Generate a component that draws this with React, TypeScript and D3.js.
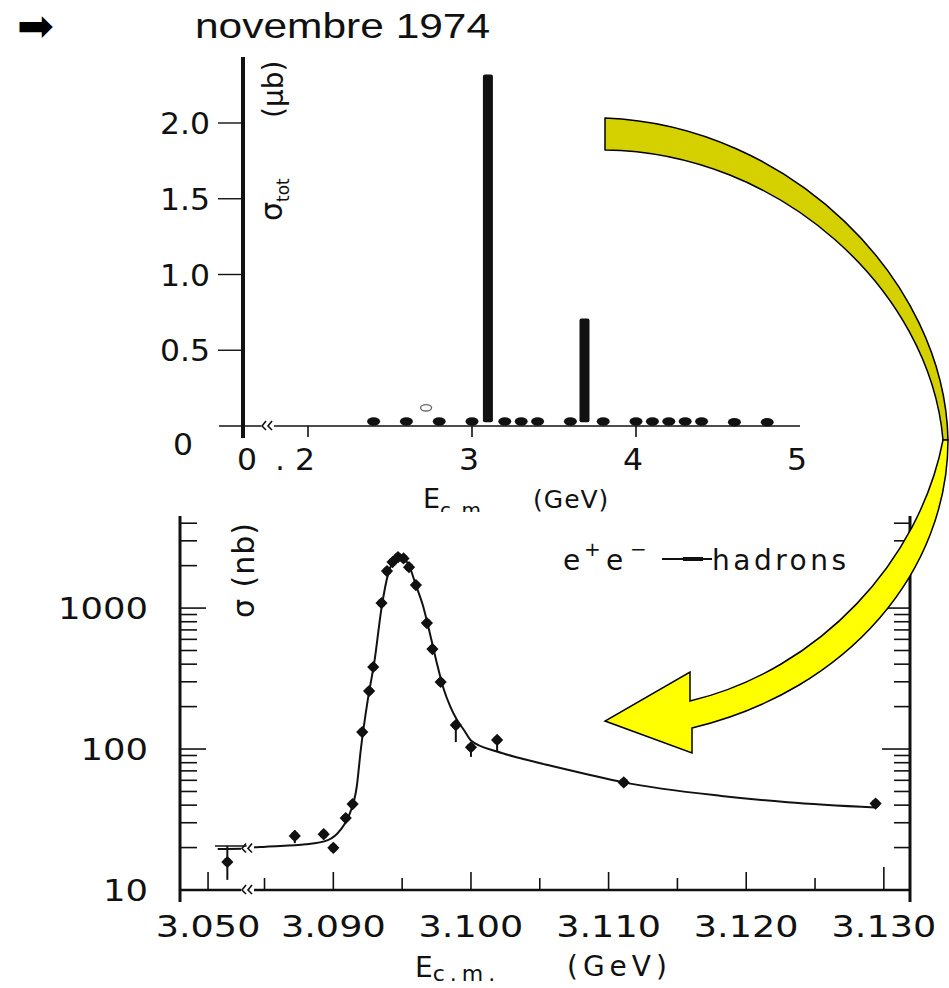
import React from 'react'
import * as d3 from 'd3'

// top panel: total hadronic cross-section scan (μb)
const scanE = [2.4, 2.6, 2.8, 3.0, 3.2, 3.3, 3.4, 3.6, 3.8, 4.0, 4.1, 4.2, 4.3, 4.4, 4.6, 4.8]
const scanSigma = [0.03, 0.03, 0.03, 0.03, 0.03, 0.03, 0.03, 0.03, 0.03, 0.03, 0.03, 0.03, 0.03, 0.03, 0.025, 0.025]
const peakE = [3.097, 3.686]
const peakSigma = [2.32, 0.71]
const strayE = [2.72]
const straySigma = [0.12]
const topYTicks = [0.5, 1.0, 1.5, 2.0]
const topYLabels = ['0.5', '1.0', '1.5', '2.0']
const topXTicks = [2, 3, 4]
const topXLabelVals = [2, 3, 4, 5]
const topXLabels = ['2', '3', '4', '5']

// bottom panel: J/psi resonance scan (nb)
const jpsiE = [3.0514, 3.0872, 3.0893, 3.0900, 3.0909, 3.0914, 3.0921, 3.0926, 3.0929, 3.0935, 3.0939, 3.0943, 3.0947, 3.0951, 3.0955, 3.0960, 3.0968, 3.0972, 3.0978, 3.0989, 3.1000, 3.1019, 3.1111, 3.1294]
const jpsiSigma = [15.8, 24.2, 24.9, 19.9, 32.4, 40.7, 132, 258, 382, 1085, 1830, 2120, 2300, 2250, 1950, 1455, 783, 512, 299, 148, 103, 116, 58, 41]
const jpsiLo = [11.8, 21.5, 22.8, 18.3, 30, 38, 122, 240, 355, 1010, 1700, 1980, 2150, 2100, 1820, 1360, 730, 480, 280, 112, 88, 95, 54, 38.5]
const jpsiHi = [20.5, 26.5, 26.8, 21.6, 34.8, 43.5, 142, 276, 410, 1160, 1960, 2260, 2450, 2400, 2080, 1550, 840, 545, 320, 158, 110, 123, 62, 43.5]
const fitE = [3.0507, 3.0529, 3.0838, 3.0851, 3.0880, 3.0896, 3.0905, 3.0912, 3.0917, 3.0920, 3.0925, 3.0930, 3.0935, 3.0940, 3.0945, 3.0950, 3.0955, 3.0960, 3.0965, 3.0970, 3.0975, 3.0980, 3.0985, 3.0990, 3.0995, 3.1000, 3.1019, 3.1036, 3.1058, 3.1085, 3.1111, 3.1182, 3.1230, 3.1294]
const fitSigma = [19.5, 19.7, 19.9, 20.3, 21.1, 22.6, 26.6, 35, 54, 100, 222, 427, 1000, 1770, 2200, 2270, 2000, 1455, 1050, 670, 415, 270, 200, 160, 136, 115, 96, 86, 76, 66, 58, 46.5, 42, 38.5]
const botXTicks = [3.050, 3.085, 3.090, 3.095, 3.100, 3.105, 3.110, 3.115, 3.120, 3.125, 3.130]
const botXMajor = [3.050, 3.090, 3.100, 3.110, 3.120, 3.130]
const botXLabels = ['3.050', '3.090', '3.100', '3.110', '3.120', '3.130']
const botYLabelVals = [10, 100, 1000]
const botYLabels = ['10', '100', '1000']

const INK = '#111'
const FONT = 'DejaVu Sans'

const Txt = ({ x, y, sx = 1, size = 30, anchor = 'middle', children, ls = 0, family = FONT }: any) => (
  <text transform={`translate(${x},${y}) scale(${sx},1)`} textAnchor={anchor} fontSize={size}
    fontFamily={family} fill={INK} letterSpacing={ls}>{children}</text>
)

const Brk = ({ x, y }: { x: number; y: number }) => (
  <g>
    <rect x={x - 1} y={y - 3} width={13} height={6} fill="#fff" />
    <path d={`M${x + 4},${y - 5} L${x},${y} L${x + 4},${y + 4} M${x + 10},${y - 5} L${x + 6},${y} L${x + 10},${y + 4}`}
      fill="none" stroke={INK} strokeWidth={1.6} />
  </g>
)

export default function App() {
  // top panel scales
  const xT = d3.scaleLinear().domain([2, 5]).range([308, 800])
  const yT = d3.scaleLinear().domain([0, 2]).range([426, 123])
  const yAxisX = 243

  // bottom panel scales (broken energy axis)
  const xB = d3.scaleLinear().domain([3.048, 3.0529, 3.0838, 3.1319]).range([180.5, 248, 248, 910])
  const yB = d3.scaleLog().domain([10, 4500]).range([890, 516])
  const minor = yB.ticks()

  const fit = d3.line<number>()
    .x((_, i) => xB(fitE[i]))
    .y(d => yB(d))
    .curve(d3.curveMonotoneX)(fitSigma)

  const diamond = d3.symbol().type(d3.symbolDiamond2).size(95)()

  // yellow curved arrow: darker back band, bright front band with head
  const back = 'M605,118 C790,125 945,280 948,440 L943,440 C930,290 780,152 605,150 Z'
  const front = 'M948,440 C948,570 850,690 692,728 L692,753 L605,721 L690,672 L690,701 C820,670 920,560 943,440 Z'

  return (
    <svg width={949} height={988} style={{ position: 'absolute', left: 0, top: 0, background: '#fff' }}>
      <defs>
        <clipPath id="topclip"><rect x={0} y={45} width={949} height={467} /></clipPath>
      </defs>

      {/* slide header */}
      <text x={17} y={41} fontSize={44} fontFamily={FONT} fill="#000">➡</text>
      <Txt x={195} y={38} sx={1.18} size={36} anchor="start" family="Liberation Sans">novembre 1974</Txt>

      {/* ---------- top panel ---------- */}
      <g clipPath="url(#topclip)">
        <line x1={219} x2={800} y1={yT(0)} y2={yT(0)} stroke={INK} strokeWidth={1.6} />
        <line x1={yAxisX} x2={yAxisX} y1={57} y2={438} stroke={INK} strokeWidth={4} />
        {topYTicks.map(t => (
          <line key={t} x1={218} x2={yAxisX} y1={yT(t)} y2={yT(t)} stroke={INK} strokeWidth={1.4} />
        ))}
        {topYTicks.map((t, i) => (
          <Txt key={t} x={210} y={yT(t) + 11} anchor="end" size={30} sx={1.05}>{topYLabels[i]}</Txt>
        ))}
        <Txt x={183} y={455} size={30} sx={1.05}>0</Txt>
        {topXTicks.map(t => (
          <line key={t} x1={xT(t)} x2={xT(t)} y1={yT(0)} y2={yT(0) + 11} stroke={INK} strokeWidth={1.6} />
        ))}
        <Txt x={yAxisX + 4} y={470} size={30} sx={1.05}>0</Txt>
        <Txt x={280} y={470} size={30}>.</Txt>
        {topXLabelVals.map((t, i) => (
          <Txt key={t} x={xT(t) - 3} y={470} size={30} sx={1.05}>{topXLabels[i]}</Txt>
        ))}
        <Brk x={262} y={yT(0)} />
        {scanE.map((e, i) => (
          <ellipse key={e} cx={xT(e)} cy={yT(scanSigma[i])} rx={6.5} ry={4.2} fill={INK} />
        ))}
        {peakE.map((e, i) => (
          <rect key={e} x={xT(e) - 5} y={yT(peakSigma[i])} width={10} height={yT(0.025) - yT(peakSigma[i])} rx={2} fill={INK} />
        ))}
        {strayE.map((e, i) => (
          <ellipse key={e} cx={xT(e)} cy={yT(straySigma[i])} rx={5.5} ry={3.2} fill="none" stroke="#666" strokeWidth={1.3} />
        ))}
        <text transform="translate(283,118) rotate(-90)" fontSize={28} fontFamily={FONT} fill={INK}>(μb)</text>
        <text transform="translate(282,221) rotate(-90)" fontSize={30} fontFamily={FONT} fill={INK}>
          σ<tspan fontSize={17} dy={7}>tot</tspan>
        </text>
        <text x={423} y={508} fontSize={27} fontFamily={FONT} fill={INK}>
          E<tspan fontSize={20} dy={9} letterSpacing={2}>c.m.</tspan>
        </text>
        <Txt x={533} y={508} size={25} anchor="start" ls={1}>(GeV)</Txt>
      </g>

      {/* ---------- bottom panel ---------- */}
      <line x1={180} x2={180} y1={516} y2={902} stroke={INK} strokeWidth={3} />
      <line x1={910} x2={910} y1={516} y2={902} stroke={INK} strokeWidth={3} />
      <line x1={180} x2={910} y1={890} y2={890} stroke={INK} strokeWidth={2.5} />
      {minor.map(t => {
        const major = botYLabelVals.includes(t)
        return (
          <g key={t}>
            <line x1={180} x2={major ? 206 : 197} y1={yB(t)} y2={yB(t)} stroke={INK} strokeWidth={1.6} />
            <line x1={910} x2={major ? 882 : 894} y1={yB(t)} y2={yB(t)} stroke={INK} strokeWidth={1.6} />
          </g>
        )
      })}
      {botYLabelVals.map((t, i) => (
        <Txt key={t} x={148} y={yB(t) + 11} anchor="end" size={30} sx={1.18}>{botYLabels[i]}</Txt>
      ))}
      {botXTicks.map(t => {
        const major = botXMajor.includes(t)
        const h = t === 3.130 ? 23 : major ? 18 : 12
        return <line key={t} x1={xB(t)} x2={xB(t)} y1={890} y2={890 - h} stroke={INK} strokeWidth={1.6} />
      })}
      {botXMajor.map((t, i) => (
        <Txt key={t} x={xB(t)} y={937} size={30} sx={1.22}>{botXLabels[i]}</Txt>
      ))}
      <Brk x={xB(3.0529) - 6} y={890} />

      <path d={fit ?? ''} fill="none" stroke={INK} strokeWidth={2} />
      <Brk x={xB(3.0529) - 6} y={yB(19.7)} />
      <line x1={xB(3.0505)} x2={xB(3.0528)} y1={yB(20.5)} y2={yB(20.5)} stroke={INK} strokeWidth={1.6} />

      {jpsiE.map((e, i) => (
        <g key={e}>
          <line x1={xB(e)} x2={xB(e)} y1={yB(jpsiLo[i])} y2={yB(jpsiHi[i])} stroke={INK} strokeWidth={2} />
          <path d={diamond ?? ''} transform={`translate(${xB(e)},${yB(jpsiSigma[i])})`} fill={INK} />
          <circle cx={xB(e)} cy={yB(jpsiSigma[i])} r={4.3} fill={INK} />
        </g>
      ))}

      <text transform="translate(254,618) rotate(-90)" fontSize={30} fontFamily={FONT} fill={INK} letterSpacing={1}>σ (nb)</text>

      <g fill={INK} fontFamily={FONT}>
        <text x={563} y={570} fontSize={28}>e</text>
        <text x={584} y={556} fontSize={20}>+</text>
        <text x={606} y={570} fontSize={28}>e</text>
        <text x={630} y={556} fontSize={20}>−</text>
        <line x1={662} x2={712} y1={559} y2={559} stroke={INK} strokeWidth={2} />
        <line x1={683} x2={703} y1={559} y2={559} stroke={INK} strokeWidth={4} />
        <text x={712} y={570} fontSize={28} letterSpacing={3.5}>hadrons</text>
      </g>

      <text x={415} y={977} fontSize={28} fontFamily={FONT} fill={INK}>
        E<tspan fontSize={22} dy={4} letterSpacing={5}>c.m.</tspan>
      </text>
      <Txt x={567} y={976} size={28} anchor="start" ls={5}>(GeV)</Txt>

      {/* yellow curved arrow */}
      <path d={back} fill="#d5d100" stroke="#000" strokeWidth={1.5} strokeLinejoin="round" />
      <path d={front} fill="#ffff00" stroke="#000" strokeWidth={1.5} strokeLinejoin="miter" />
    </svg>
  )
}
